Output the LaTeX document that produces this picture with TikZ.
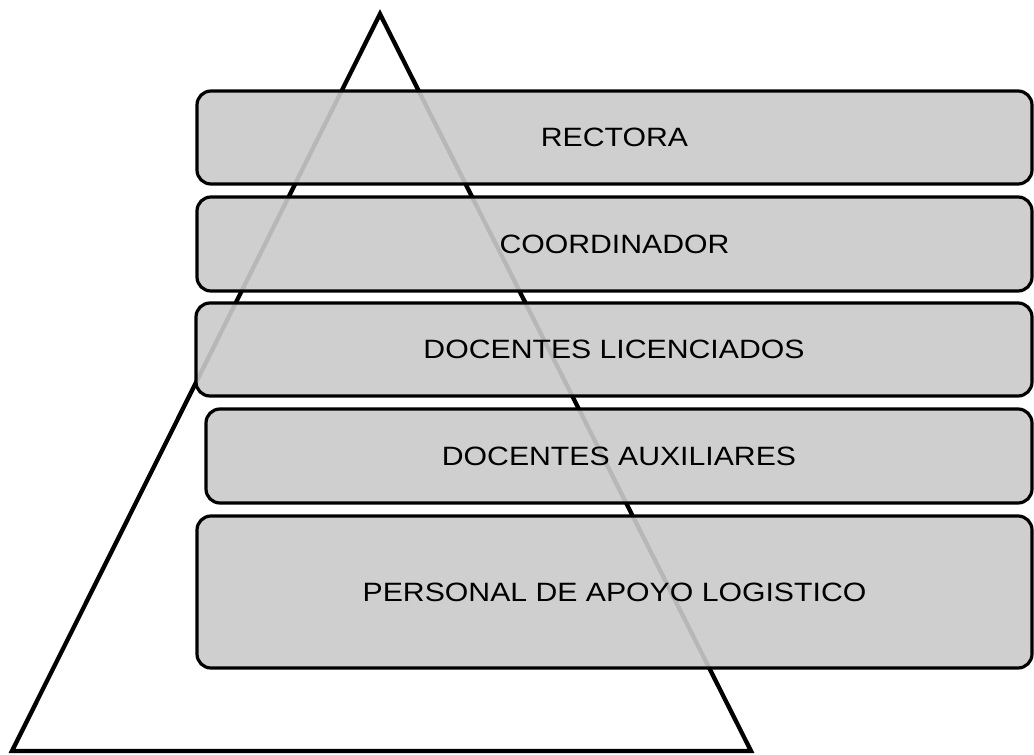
\documentclass[tikz,border=0pt]{standalone}
\usepackage{fontspec}
\setmainfont{Liberation Sans}
\begin{document}
\begin{tikzpicture}[x=1pt,y=-1pt,
  box/.style={draw=black, line width=3.2pt, rounded corners=14pt,
    fill={rgb,255:red,202;green,202;blue,202}, fill opacity=0.91, text opacity=1,
    minimum width=835pt, inner sep=0pt, font=\fontsize{26.5}{30}\selectfont},
  tri/.style={draw=black, line width=4.3pt, line join=miter}]
\useasboundingbox (0,0) rectangle (1034,755);
\coordinate (apex) at (380,14);
\coordinate (bl) at (12,751);
\coordinate (br) at (751,751);
\draw[tri] (apex) -- (bl) -- (br) -- cycle;
\node[box, minimum height=93pt] (rec) at (614.5,137.5) {\scalebox{1.14}[1]{RECTORA}};
\node[box, minimum height=94pt] (coo) at (614.5,244) {\scalebox{1.14}[1]{COORDINADOR}};
\node[box, minimum height=93pt, minimum width=836pt] (lic) at (614,349.5) {\scalebox{1.14}[1]{DOCENTES LICENCIADOS}};
\node[box, minimum height=94pt, minimum width=826pt] (aux) at (619,456) {\scalebox{1.14}[1]{DOCENTES AUXILIARES}};
\node[box, minimum height=152pt] (per) at (614.5,592) {\scalebox{1.14}[1]{PERSONAL DE APOYO LOGISTICO}};
\end{tikzpicture}
\end{document}
